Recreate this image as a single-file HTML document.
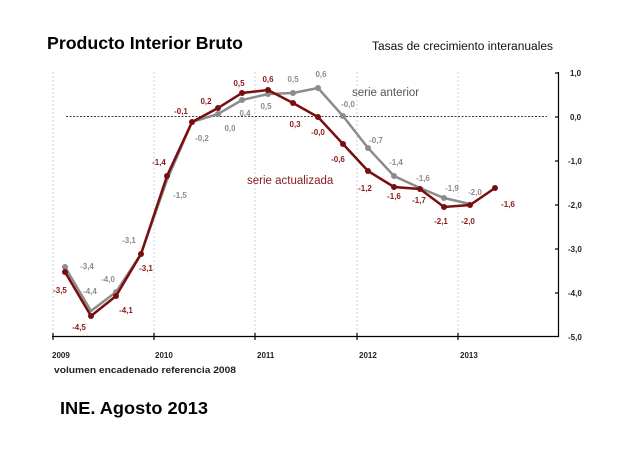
<!DOCTYPE html>
<html><head><meta charset="utf-8"><style>
body{margin:0;background:#fff;}
svg{display:block;font-family:"Liberation Sans",Arial,sans-serif;}
.r{fill:#8b1a1a;font-size:8px;font-weight:bold;text-anchor:middle}
.g{fill:#8c8c8c;font-size:8px;font-weight:bold;text-anchor:middle}
.ax{font-size:8px;font-weight:bold;fill:#222}
</style></head><body>
<svg width="627" height="456" viewBox="0 0 627 456">
<text x="47" y="49" font-size="17.5" font-weight="bold" fill="#000" textLength="196" lengthAdjust="spacingAndGlyphs">Producto Interior Bruto</text>
<text x="372" y="50" font-size="11.5" fill="#111" textLength="181" lengthAdjust="spacingAndGlyphs">Tasas de crecimiento interanuales</text>
<g stroke="#b8c8e0" stroke-width="0.8" stroke-dasharray="2,2">
<line x1="53" y1="72" x2="53" y2="337"/><line x1="154" y1="72" x2="154" y2="337"/><line x1="255" y1="72" x2="255" y2="337"/><line x1="357" y1="72" x2="357" y2="337"/><line x1="458" y1="72" x2="458" y2="337"/>
</g>
<line x1="66" y1="116.5" x2="547" y2="116.5" stroke="#000" stroke-width="0.8" stroke-dasharray="2,1.5"/>
<g stroke="#000" stroke-width="1.2">
<line x1="52" y1="336.5" x2="559" y2="336.5"/>
<line x1="558.5" y1="72" x2="558.5" y2="337"/>
<line x1="53" y1="333" x2="53" y2="340"/><line x1="154" y1="333" x2="154" y2="340"/><line x1="255" y1="333" x2="255" y2="340"/><line x1="357" y1="333" x2="357" y2="340"/><line x1="458" y1="333" x2="458" y2="340"/>
<line x1="555" y1="73" x2="559" y2="73"/><line x1="555" y1="117" x2="559" y2="117"/><line x1="555" y1="161" x2="559" y2="161"/><line x1="555" y1="205" x2="559" y2="205"/><line x1="555" y1="249" x2="559" y2="249"/><line x1="555" y1="293" x2="559" y2="293"/>
</g>
<g class="ax"><text x="570" y="76">1,0</text><text x="570" y="120">0,0</text><text x="568" y="164">-1,0</text><text x="568" y="208">-2,0</text><text x="568" y="252">-3,0</text><text x="568" y="296">-4,0</text><text x="568" y="340">-5,0</text>
<text x="52" y="358">2009</text><text x="155" y="358">2010</text><text x="257" y="358">2011</text><text x="359" y="358">2012</text><text x="460" y="358">2013</text></g>
<text x="54" y="373" font-size="9.5" font-weight="bold" fill="#222" textLength="182" lengthAdjust="spacingAndGlyphs">volumen encadenado  referencia 2008</text>
<text x="60" y="414" font-size="17.5" font-weight="bold" fill="#000" textLength="148" lengthAdjust="spacingAndGlyphs">INE. Agosto 2013</text>
<polyline fill="none" stroke="#8c8c8c" stroke-width="2.5" points="65,267 91,311 116,292 141,254 167,180 192,122 218,114 242,100 268,94 293,93 318,88 343,116 368,148 394,176 420,188 444,198 470,204"/>
<g fill="#8c8c8c"><circle cx="65" cy="267" r="3"/><circle cx="116" cy="292" r="3"/><circle cx="218" cy="114" r="3"/><circle cx="242" cy="100" r="3"/><circle cx="268" cy="94" r="3"/><circle cx="293" cy="93" r="3"/><circle cx="318" cy="88" r="3"/><circle cx="343" cy="116" r="3"/><circle cx="368" cy="148" r="3"/><circle cx="394" cy="176" r="3"/><circle cx="444" cy="198" r="3"/></g>
<polyline fill="none" stroke="#7a0e0e" stroke-width="2.5" points="65,272 91,316 116,296 141,254 167,176 192,122 218,108 242,93 268,90 293,103 318,117 343,144 368,171 394,187 420,189 444,207 470,205 495,188"/>
<g fill="#7a0e0e"><circle cx="65" cy="272" r="3"/><circle cx="91" cy="316" r="3"/><circle cx="116" cy="296" r="3"/><circle cx="141" cy="254" r="3"/><circle cx="167" cy="176" r="3"/><circle cx="192" cy="122" r="3"/><circle cx="218" cy="108" r="3"/><circle cx="242" cy="93" r="3"/><circle cx="268" cy="90" r="3"/><circle cx="293" cy="103" r="3"/><circle cx="318" cy="117" r="3"/><circle cx="343" cy="144" r="3"/><circle cx="368" cy="171" r="3"/><circle cx="394" cy="187" r="3"/><circle cx="420" cy="189" r="3"/><circle cx="444" cy="207" r="3"/><circle cx="470" cy="205" r="3"/><circle cx="495" cy="188" r="3"/></g>
<g class="g"><text x="87" y="269">-3,4</text><text x="90" y="294">-4,4</text><text x="108" y="282">-4,0</text><text x="129" y="243">-3,1</text><text x="180" y="198">-1,5</text><text x="202" y="141">-0,2</text><text x="230" y="131">0,0</text><text x="245" y="116">0,4</text><text x="266" y="109">0,5</text><text x="293" y="82">0,5</text><text x="321" y="77">0,6</text><text x="348" y="107">-0,0</text><text x="376" y="143">-0,7</text><text x="396" y="165">-1,4</text><text x="423" y="181">-1,6</text><text x="452" y="191">-1,9</text><text x="475" y="195">-2,0</text></g>
<text x="352" y="96" font-size="11.5" fill="#555">serie anterior</text>
<text x="247" y="184" font-size="11.5" fill="#8b1a1a">serie actualizada</text>
<g class="r"><text x="60" y="293">-3,5</text><text x="79" y="330">-4,5</text><text x="126" y="313">-4,1</text><text x="146" y="271">-3,1</text><text x="159" y="165">-1,4</text><text x="181" y="114">-0,1</text><text x="206" y="104">0,2</text><text x="239" y="86">0,5</text><text x="268" y="82">0,6</text><text x="295" y="127">0,3</text><text x="318" y="135">-0,0</text><text x="338" y="162">-0,6</text><text x="365" y="191">-1,2</text><text x="394" y="199">-1,6</text><text x="419" y="203">-1,7</text><text x="441" y="224">-2,1</text><text x="468" y="224">-2,0</text><text x="508" y="207">-1,6</text></g>
</svg>
</body></html>
